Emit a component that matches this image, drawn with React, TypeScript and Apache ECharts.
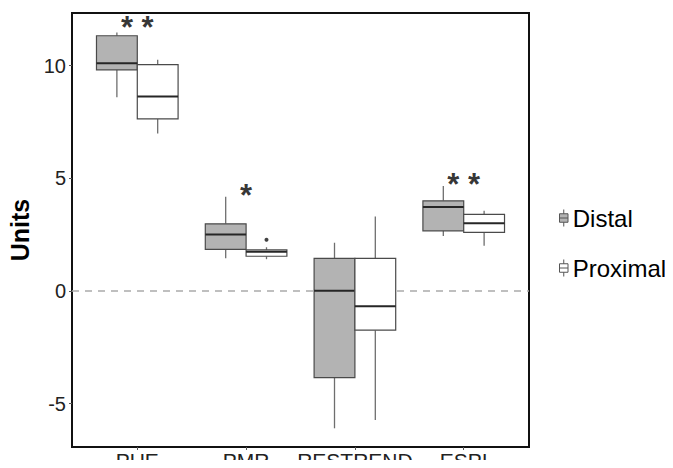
import React, { useEffect, useRef } from "react";
import * as echarts from "echarts";

const categories = ["PUE", "PMR", "RESTREND", "ESPI"];
// [min, q1, median, q3, max]
const distal = [
  [8.59, 9.81, 10.1, 11.32, 11.47],
  [1.45, 1.85, 2.51, 2.98, 4.18],
  [-6.09, -3.84, 0.01, 1.45, 2.14],
  [2.44, 2.67, 3.72, 4.0, 4.66],
];
const proximal = [
  [6.98, 7.63, 8.63, 10.04, 10.26],
  [1.41, 1.54, 1.74, 1.82, 1.94],
  [-5.72, -1.74, -0.68, 1.45, 3.3],
  [2.01, 2.6, 3.0, 3.4, 3.56],
];
// outliers: [category index, group ("Distal"/"Proximal"), value]
const outliers: [number, string, number][] = [[1, "Proximal", 2.27]];
const sigLabels = ["* *", "*", "", "* *"];
const sigY = [12.02, 4.57, null, 5.07];
const yTicks = [-5, 0, 5, 10];

const BOX_W = 0.375;
const FONT = "Liberation Sans, Arial, sans-serif";

function boxData(stats: number[][], side: number) {
  return stats.map((s, i) => [i + 1 + side * (BOX_W / 2), ...s]);
}

function makeRender(fill: string) {
  return (params: any, api: any) => {
    const x = api.value(0);
    const [mn, q1, md, q3, mx] = [1, 2, 3, 4, 5].map((k) => api.value(k));
    const hw = api.size([BOX_W, 0])[0] / 2;
    const pMax = api.coord([x, mx]);
    const pQ3 = api.coord([x, q3]);
    const pMd = api.coord([x, md]);
    const pQ1 = api.coord([x, q1]);
    const pMin = api.coord([x, mn]);
    const cx = pMax[0];
    const whisker = { stroke: "#6e6e6e", lineWidth: 1.3 };
    return {
      type: "group",
      children: [
        { type: "line", shape: { x1: cx, y1: pMax[1], x2: cx, y2: pQ3[1] }, style: whisker },
        { type: "line", shape: { x1: cx, y1: pQ1[1], x2: cx, y2: pMin[1] }, style: whisker },
        {
          type: "rect",
          shape: { x: cx - hw, y: pQ3[1], width: hw * 2, height: pQ1[1] - pQ3[1] },
          style: { fill, stroke: "#4a4a4a", lineWidth: 1.2 },
        },
        {
          type: "line",
          shape: { x1: cx - hw, y1: pMd[1], x2: cx + hw, y2: pMd[1] },
          style: { stroke: "#262626", lineWidth: 2 },
        },
      ],
    };
  };
}

const legendIcon =
  "path://M2,4 L10,4 L10,12 L2,12 Z M2,8 L10,8 M6,0 L6,4 M6,12 L6,16";

export default function App() {
  const ref = useRef<HTMLDivElement>(null);
  useEffect(() => {
    if (!ref.current) return;
    const chart = echarts.init(ref.current, undefined, { renderer: "svg" });
    chart.setOption({
      animation: false,
      backgroundColor: "#fff",
      textStyle: { fontFamily: FONT },
      grid: {
        left: 72,
        top: 13,
        right: 144,
        bottom: 21,
        show: true,
        borderColor: "#111",
        borderWidth: 2,
        backgroundColor: "transparent",
        outerBoundsMode: "none",
        containLabel: false,
      },
      legend: {
        orient: "vertical",
        left: 554,
        top: 200,
        itemWidth: 12,
        itemHeight: 17,
        itemGap: 24,
        textStyle: { fontSize: 24, color: "#000", fontFamily: FONT, lineHeight: 26, padding: [0, 0, 0, -2] },
        data: [
          { name: "Distal", icon: legendIcon, itemStyle: { color: "#b3b3b3", borderColor: "#555", borderWidth: 1 } },
          { name: "Proximal", icon: legendIcon, itemStyle: { color: "#fff", borderColor: "#555", borderWidth: 1 } },
        ],
      },
      xAxis: {
        type: "value",
        min: 0.4,
        max: 4.6,
        splitLine: { show: false },
        axisLine: { show: true, onZero: false, lineStyle: { color: "#111", width: 2 } },
        axisTick: { show: true, length: 3, customValues: [1, 2, 3, 4], lineStyle: { color: "#555" } },
        axisLabel: {
          customValues: [1, 2, 3, 4],
          formatter: (v: number) => categories[Math.round(v) - 1] ?? "",
          fontSize: 21,
          lineHeight: 21,
          color: "#222",
          margin: 3,
          fontFamily: FONT,
        },
      },
      yAxis: {
        type: "value",
        min: -6.92,
        max: 12.33,
        name: "Units",
        nameLocation: "middle",
        nameGap: 38,
        nameTextStyle: { fontSize: 25, fontWeight: "bold", color: "#000", fontFamily: FONT },
        splitLine: { show: false },
        axisLine: { show: true, onZero: false, lineStyle: { color: "#111", width: 2 } },
        axisTick: { show: true, length: 3, customValues: yTicks, lineStyle: { color: "#555" } },
        axisLabel: { customValues: yTicks, fontSize: 20, color: "#222", margin: 6, fontFamily: FONT },
      },
      series: [
        {
          type: "scatter",
          name: "zero",
          data: [],
          z: 1,
          markLine: {
            silent: true,
            z: 1,
            symbol: "none",
            label: { show: false },
            lineStyle: { color: "#aaa", type: [7, 6], width: 1.5 },
            data: [{ yAxis: 0 }],
          },
        },
        {
          type: "custom",
          name: "Distal",
          z: 3,
          itemStyle: { color: "#b3b3b3" },
          renderItem: makeRender("#b3b3b3"),
          encode: { x: 0, y: [1, 2, 3, 4, 5] },
          data: boxData(distal, -1),
        },
        {
          type: "custom",
          name: "Proximal",
          z: 3,
          itemStyle: { color: "#fff" },
          renderItem: makeRender("#ffffff"),
          encode: { x: 0, y: [1, 2, 3, 4, 5] },
          data: boxData(proximal, 1),
        },
        {
          type: "scatter",
          name: "outliers",
          z: 4,
          symbolSize: 4,
          itemStyle: { color: "#111" },
          data: outliers.map(([c, g, v]) => [c + 1 + (g === "Distal" ? -1 : 1) * (BOX_W / 2), v]),
        },
        {
          type: "scatter",
          name: "sig",
          z: 5,
          symbolSize: 1,
          itemStyle: { color: "rgba(0,0,0,0)" },
          label: {
            show: true,
            position: "inside",
            formatter: (p: any) => p.name,
            fontSize: 31,
            fontWeight: "bold",
            color: "#000",
            offset: [0, 8],
            fontFamily: FONT,
          },
          data: sigLabels
            .map((s, i) => ({ name: s, value: [i + 1, sigY[i]] }))
            .filter((d) => d.name !== ""),
        },
      ],
    });
    return () => chart.dispose();
  }, []);
  return <div ref={ref} style={{ width: 673, height: 468, margin: -8 }} />;
}
